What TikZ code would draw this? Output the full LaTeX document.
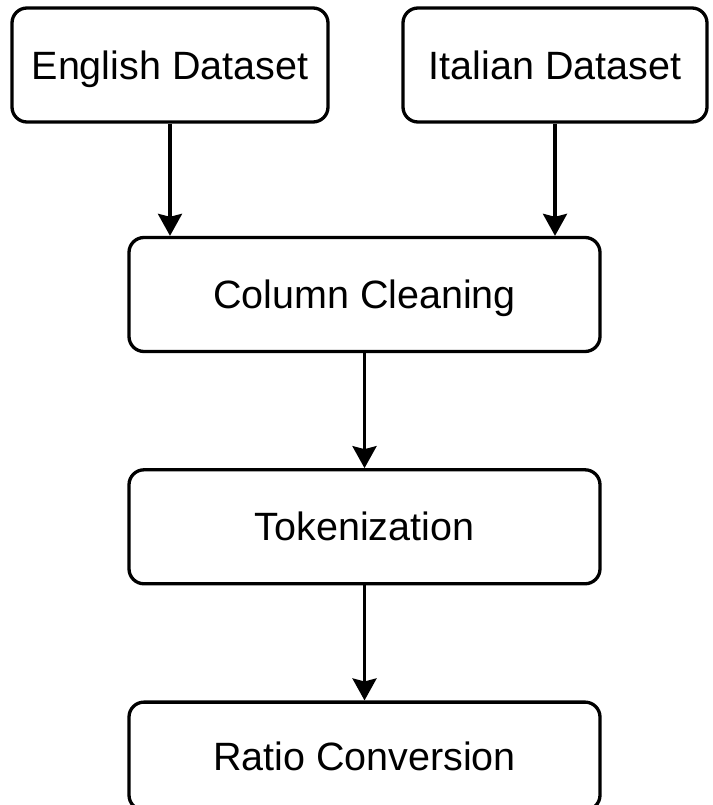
\documentclass[tikz,border=0pt]{standalone}
\usepackage{fontspec}
\setmainfont{Liberation Sans}
\usetikzlibrary{positioning, arrows.meta}
\tikzset{
  stage/.style = {rectangle, rounded corners=15pt, draw=black, fill=white,
                  line width=3.3pt, minimum width=471pt, minimum height=114pt,
                  text height=35.5pt, text depth=7.3pt,
                  align=center, font=\fontsize{39.5}{46}\selectfont},
  source/.style = {stage, minimum width=316pt},
  arrow/.style = {-{Stealth[length=22pt, width=24pt, inset=3pt]}, line width=3.3pt}
}
\begin{document}
\begin{tikzpicture}[node distance=115pt]
\useasboundingbox (0,0) rectangle (712pt,-805pt);
% input datasets
\node[source] (english) at (170pt,-65pt) {English Dataset};
\node[source, minimum width=304pt] (italian) at (555pt,-65pt) {Italian Dataset};
% processing steps
\node[stage] (cleaning) at (364.5pt,-294.5pt) {Column Cleaning};
\node[stage, below=of cleaning] (tokens) {Tokenization};
\node[stage, below=of tokens, minimum height=108pt] (ratio) {Ratio Conversion};

\draw[arrow] (english.south) -- (english.south |- cleaning.north);
\draw[arrow] (italian.south) -- (italian.south |- cleaning.north);
\draw[arrow] (cleaning) -- (tokens);
\draw[arrow] (tokens) -- (ratio);
\end{tikzpicture}
\end{document}
